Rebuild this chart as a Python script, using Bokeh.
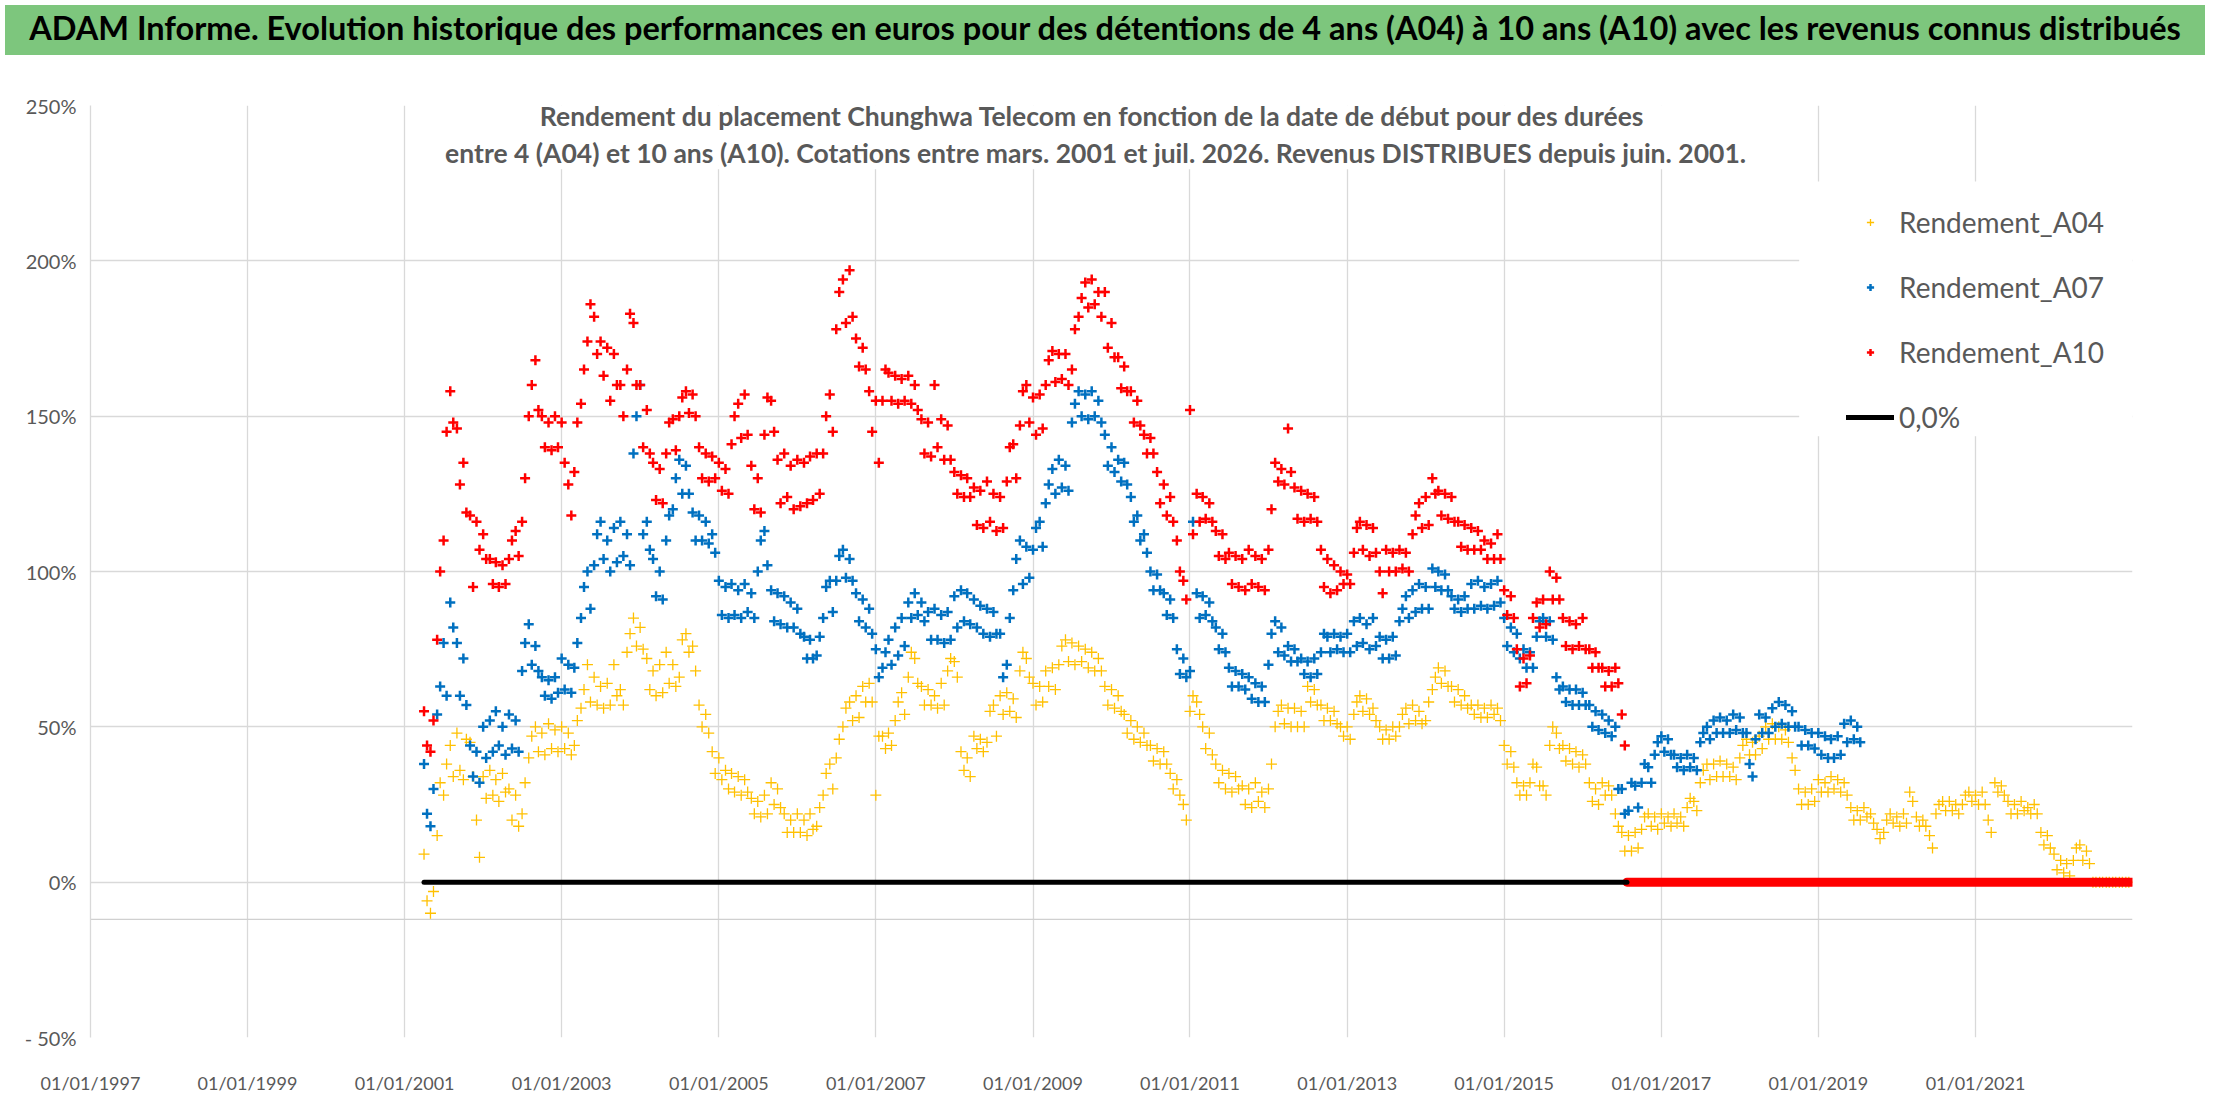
import pandas as pd
from bokeh.plotting import figure
from bokeh.layouts import column
from bokeh.models import (Range1d, FixedTicker, DatetimeTickFormatter, BoxAnnotation,
                          Label, Legend, LegendItem, Span, Div)
from bokeh.embed import file_html
from bokeh.resources import INLINE

titre = ("ADAM Informe. Evolution historique des performances en euros pour des détentions "
         "de 4 ans (A04) à 10 ans (A10) avec les revenus connus distribués")
sous_titre = ["Rendement du placement Chunghwa Telecom  en fonction de la date de début pour des durées",
              "entre 4 (A04) et 10 ans (A10). Cotations entre mars. 2001 et juil. 2026. "
              "Revenus DISTRIBUES depuis juin. 2001."]

# valeurs en %, deux relevés par mois (1er et 15), à partir d'avril 2001
debut = "2001-04-01"
a04 = [
    9, -6, -10, -3, 15, 32, 28, 38, 44, 34, 48, 36, 33, 46, 45, 34, 20, 8,
    34, 27, 36, 28, 33, 26, 35, 29, 30, 20, 28, 18, 22, 32, 40, 47, 50, 42, 48, 41, 51, 43, 49, 42,
    50, 43, 48, 41, 44, 52, 56, 62, 70, 58, 66, 57, 63, 56, 64, 57, 70, 60, 62, 57, 74, 80, 85, 76,
    82, 75, 72, 62, 68, 60, 70, 61, 74, 64, 70, 63, 66, 78, 80, 74, 76, 68, 57, 50, 54, 48, 42, 35,
    40, 33, 36, 30, 35, 29, 34, 28, 33, 29, 27, 22, 26, 21, 28, 22, 32, 25, 30, 24, 22, 16, 20, 16,
    22, 16, 20, 15, 22, 17, 18, 24, 28, 35, 38, 30, 40, 46, 50, 56, 58, 52, 60, 53, 63, 58, 64, 58,
    28, 47, 47, 43, 48, 44, 52, 58, 61, 54, 66, 74, 72, 64, 63, 57, 62, 57, 60, 56, 64, 57, 68, 72,
    71, 66, 42, 36, 40, 34, 47, 43, 46, 42, 45, 55, 57, 47, 60, 54, 61, 55, 59, 53, 68, 74, 72, 66,
    64, 57, 63, 58, 68, 63, 69, 62, 70, 76, 78, 71, 77, 70, 76, 71, 75, 69, 74, 68, 72, 68, 63, 57,
    62, 56, 60, 55, 54, 48, 52, 46, 50, 45, 48, 44, 44, 39, 43, 38, 42, 38, 35, 30, 33, 28, 25, 20,
    55, 60, 58, 54, 50, 43, 48, 41, 38, 32, 36, 30, 35, 29, 34, 30, 31, 25, 30, 24, 32, 26, 29, 24,
    30, 38, 50, 55, 57, 51, 56, 50, 56, 50, 55, 50, 63, 58, 62, 57, 57, 52, 56, 52, 55, 51, 50, 47,
    50, 46, 54, 58, 60, 55, 59, 54, 56, 52, 50, 46, 49, 46, 50, 47, 50, 54, 56, 51, 57, 52, 55, 51,
    52, 58, 62, 66, 69, 64, 68, 63, 63, 58, 62, 57, 60, 56, 57, 54, 57, 53, 56, 53, 57, 54, 56, 52,
    44, 38, 42, 37, 32, 28, 31, 28, 32, 38, 37, 31, 31, 28, 44, 50, 48, 43, 44, 39, 43, 38, 42, 37,
    41, 38, 32, 26, 30, 25, 32, 28, 31, 28, 22, 18, 16, 10, 15, 10, 16, 11, 17, 21, 22, 18, 21, 17,
    22, 19, 21, 18, 22, 19, 21, 18, 24, 27, 26, 23, 32, 36, 38, 33, 38, 34, 39, 34, 38, 34, 37, 33,
    40, 44, 46, 41, 45, 41, 47, 43, 50, 46, 51, 46, 50, 46, 49, 45, 40, 36, 30, 25, 29, 25, 30, 26,
    33, 29, 32, 29, 34, 30, 33, 29, 32, 28, 24, 20, 23, 20, 24, 21, 22, 19, 17, 14, 16, 20, 22, 19,
    21, 18, 22, 19, 29, 26, 21, 18, 20, 18, 15, 11, 22, 25, 26, 23, 26, 23, 25, 22, 25, 28, 29, 26,
    28, 25, 29, 25, 20, 16, 32, 29, 31, 28, 26, 22, 25, 22, 26, 23, 24, 22, 25, 22, 16, 12, 15, 11,
    9, 4, 7, 3, 6, 2, 7, 11, 12, 7, 10, 6, 0, 0, 0, 0, 0, 0, 0, 0, 0, 0, 0, 0,
]
a07 = [
    38, 22, 18, 30, 54, 63, 77, 60, 90, 82, 77, 60, 72, 57, 44, 34, 42, 32,
    50, 40, 52, 42, 55, 44, 50, 41, 54, 43, 52, 42, 68, 77, 83, 70, 76, 68, 66, 60, 65, 59, 66, 61,
    72, 62, 70, 61, 69, 77, 85, 95, 100, 88, 102, 112, 116, 104, 110, 100, 114, 103, 116, 105, 112, 102, 138, 150,
    160, 112, 116, 107, 104, 92, 100, 91, 110, 118, 120, 130, 136, 125, 134, 125, 119, 110, 118, 110, 116, 109, 112, 106,
    97, 86, 95, 85, 96, 86, 94, 85, 96, 87, 93, 85, 100, 110, 113, 102, 94, 84, 93, 83, 92, 82, 90, 82,
    88, 80, 79, 72, 78, 72, 73, 79, 85, 95, 97, 87, 97, 105, 107, 98, 104, 97, 93, 84, 91, 82, 88, 80,
    75, 66, 69, 74, 78, 70, 82, 73, 85, 76, 90, 85, 93, 86, 90, 84, 87, 78, 88, 78, 86, 77, 87, 78,
    92, 82, 94, 84, 93, 83, 91, 82, 89, 80, 88, 79, 87, 80, 80, 66, 70, 85, 94, 104, 110, 96, 108, 98,
    107, 114, 116, 108, 122, 128, 133, 125, 136, 127, 134, 126, 148, 154, 158, 150, 157, 149, 158, 150, 155, 148, 144, 134,
    140, 132, 136, 129, 135, 128, 124, 116, 118, 110, 112, 106, 100, 94, 99, 94, 93, 86, 91, 85, 75, 67, 72, 66,
    68, 116, 93, 85, 92, 86, 90, 84, 82, 75, 80, 74, 69, 63, 68, 63, 67, 62, 66, 59, 64, 58, 63, 58,
    70, 80, 84, 74, 82, 73, 76, 71, 75, 71, 72, 67, 71, 66, 72, 67, 74, 80, 79, 74, 80, 75, 79, 74,
    80, 74, 84, 76, 85, 77, 83, 75, 85, 76, 79, 72, 78, 72, 79, 73, 84, 88, 92, 85, 94, 87, 96, 88,
    95, 88, 101, 95, 100, 94, 99, 94, 92, 88, 91, 87, 92, 88, 96, 88, 97, 89, 95, 88, 96, 89, 97, 90,
    85, 76, 82, 74, 80, 72, 75, 69, 74, 69, 79, 84, 85, 79, 84, 78, 66, 62, 63, 58, 62, 57, 62, 57,
    61, 57, 57, 50, 55, 49, 54, 48, 52, 47, 50, 30, 30, 22, 23, 32, 31, 24, 32, 38, 37, 32, 41, 45,
    47, 42, 46, 41, 41, 37, 40, 36, 41, 37, 40, 36, 45, 48, 50, 46, 52, 48, 53, 48, 52, 48, 54, 49,
    53, 48, 48, 38, 34, 46, 54, 48, 53, 48, 56, 50, 58, 51, 57, 50, 55, 50, 50, 44, 49, 44, 48, 43,
    48, 41, 47, 40, 46, 40, 47, 41, 51, 45, 52, 46, 50, 45,
]
a10 = [
    55, 44, 42, 52, 78, 100, 110, 145, 158, 148, 146, 128, 135, 119, 118, 95, 116, 107,
    112, 104, 104, 96, 103, 95, 102, 96, 104, 110, 113, 105, 116, 130, 150, 160, 168, 152, 150, 140, 148, 139, 150, 140,
    148, 135, 128, 118, 132, 148, 154, 165, 174, 186, 182, 170, 174, 163, 172, 155, 170, 160, 160, 150, 165, 183, 180, 160,
    160, 140, 152, 138, 135, 123, 133, 122, 138, 148, 149, 139, 150, 156, 158, 151, 157, 150, 140, 130, 138, 129, 137, 130,
    135, 126, 133, 125, 141, 150, 154, 143, 157, 144, 134, 120, 130, 119, 144, 156, 155, 145, 136, 122, 138, 124, 134, 120,
    136, 121, 135, 122, 137, 123, 138, 125, 138, 150, 157, 145, 178, 190, 194, 180, 197, 182, 175, 166, 172, 165, 158, 145,
    155, 135, 155, 165, 164, 155, 163, 154, 162, 155, 163, 154, 160, 152, 149, 138, 148, 137, 160, 140, 149, 136, 147, 136,
    132, 125, 131, 124, 130, 124, 127, 115, 126, 114, 129, 116, 125, 113, 124, 114, 129, 140, 141, 130, 147, 158, 160, 148,
    156, 144, 157, 146, 160, 168, 171, 161, 170, 162, 170, 160, 165, 178, 182, 188, 193, 185, 194, 186, 190, 182, 190, 172,
    180, 169, 169, 159, 166, 158, 158, 148, 155, 147, 144, 138, 143, 138, 132, 122, 128, 118, 124, 116, 110, 100, 97, 91,
    152, 112, 125, 116, 124, 117, 122, 116, 113, 105, 112, 104, 106, 96, 105, 95, 104, 94, 107, 96, 105, 95, 104, 94,
    107, 120, 135, 129, 133, 128, 146, 132, 127, 117, 126, 116, 125, 117, 124, 116, 107, 95, 104, 93, 102, 94, 100, 96,
    99, 96, 106, 114, 116, 107, 115, 105, 114, 106, 100, 93, 107, 100, 106, 100, 107, 101, 106, 100, 112, 118, 122, 114,
    124, 115, 130, 125, 126, 118, 125, 117, 124, 116, 116, 108, 115, 107, 114, 107, 113, 107, 110, 104, 109, 104, 112, 104,
    94, 86, 92, 85, 75, 63, 72, 64, 73, 85, 90, 82, 91, 83, 100, 91, 98, 91, 85, 76, 84, 75, 83, 76,
    85, 75, 75, 69, 74, 69, 69, 63, 68, 63, 69, 64, 54, 44,
]
# après la fin des cotations A10 la valeur reste à 0
fin_a10 = "2016-07-25"
fin_axe = "2023-01-01"
a10_fin_dates = [fin_a10, "2022-12-28"]
a10_fin_val = [0, 0]
zero_dates = [debut, fin_a10]
zero_val = [0, 0]

annees = [1997, 1999, 2001, 2003, 2005, 2007, 2009, 2011, 2013, 2015, 2017, 2019, 2021]
pct_ticks = [-50, 0, 50, 100, 150, 200, 250]
pct_labels = ["- 50%", "0%", "50%", "100%", "150%", "200%", "250%"]

FONT = "Lato"
GRIS = "#595959"


def ms(d):
    return pd.Timestamp(d).timestamp() * 1000


# bandeau titre
t = Div(text=titre, width=2200, height=50,
        styles={"background-color": "#7DC67D", "font-family": FONT, "font-weight": "bold",
                "font-size": "32.5px", "color": "black", "text-align": "center",
                "line-height": "46px", "white-space": "nowrap", "overflow": "hidden"})

# graphique
p = figure(width=2200, height=1036, x_axis_type="datetime",
           x_range=Range1d(ms("1997-01-01"), ms(fin_axe)), y_range=Range1d(-50, 250),
           output_backend="svg", toolbar_location=None, outline_line_color=None,
           min_border_left=90, min_border_right=68, min_border_top=45, min_border_bottom=54)

p.xaxis.ticker = FixedTicker(ticks=[ms(f"{a}-01-01") for a in annees])
p.xaxis.formatter = DatetimeTickFormatter(years="%d/%m/%Y", months="%d/%m/%Y", days="%d/%m/%Y",
                                          strip_leading_zeros=False)
p.yaxis.ticker = FixedTicker(ticks=pct_ticks)
p.yaxis.major_label_overrides = dict(zip(pct_ticks, pct_labels))
for ax in (p.xaxis, p.yaxis):
    ax.major_tick_line_color = None
    ax.minor_tick_line_color = None
    ax.major_label_text_font = FONT
    ax.major_label_text_color = GRIS
    ax.major_label_text_font_size = "20px"
p.xaxis.axis_line_color = None
p.xaxis.major_label_text_font_size = "18px"
p.xaxis.major_label_standoff = 28
p.yaxis.axis_line_color = "#D9D9D9"
p.yaxis.axis_line_width = 1.3
p.yaxis.major_label_standoff = 8
p.grid.grid_line_color = "#D9D9D9"
p.grid.grid_line_width = 1.3
p.add_layout(Span(location=-12, dimension="width", line_color="#D0D0D0", line_width=1.3, level="underlay"))

x04 = pd.date_range(debut, periods=len(a04), freq="SMS")
x07 = pd.date_range(debut, periods=len(a07), freq="SMS")
x10 = pd.date_range(debut, periods=len(a10), freq="SMS")

r04 = p.scatter(x04, a04, marker="cross", size=11, line_color="#FFC000", line_width=1.3)
r07 = p.scatter(x07, a07, marker="cross", size=10, line_color="#0070C0", line_width=2.5)
r10 = p.scatter(x10, a10, marker="cross", size=10, line_color="#FF0000", line_width=2.5)
p.line(pd.to_datetime(a10_fin_dates), a10_fin_val, line_color="#FF0000", line_width=9, line_cap="round")
r0 = p.line(pd.to_datetime(zero_dates), zero_val, line_color="black", line_width=5, line_cap="round")

# cadres blancs du sous-titre et de la légende
p.add_layout(BoxAnnotation(left=ms("2001-05-30"), right=ms("2018-06-28"), bottom=229.5, top=251,
                           fill_color="white", fill_alpha=1, line_color=None))
p.add_layout(BoxAnnotation(left=ms("2018-10-04"), right=ms(fin_axe), bottom=143.5, top=225.5,
                           fill_color="white", fill_alpha=1, line_color=None))

for txt, y in zip(sous_titre, [246.6, 234.6]):
    p.add_layout(Label(x=ms("2009-10-19"), y=y, text=txt, text_align="center", text_baseline="middle",
                       text_font=FONT, text_font_style="bold", text_font_size="26.5px", text_color=GRIS))

legend = Legend(items=[LegendItem(label="Rendement_A04", renderers=[r04]),
                       LegendItem(label="Rendement_A07", renderers=[r07]),
                       LegendItem(label="Rendement_A10", renderers=[r10]),
                       LegendItem(label="0,0%", renderers=[r0])],
                location=(1756, 601), padding=15, spacing=27, glyph_width=48, glyph_height=18,
                label_height=38, label_standoff=5, label_text_font=FONT, label_text_font_size="28px",
                label_text_color=GRIS, background_fill_color="white", background_fill_alpha=1,
                border_line_color=None)
p.add_layout(legend, "center")

layout = column(t, p)
open("out.html", "w").write(file_html(layout, INLINE))
